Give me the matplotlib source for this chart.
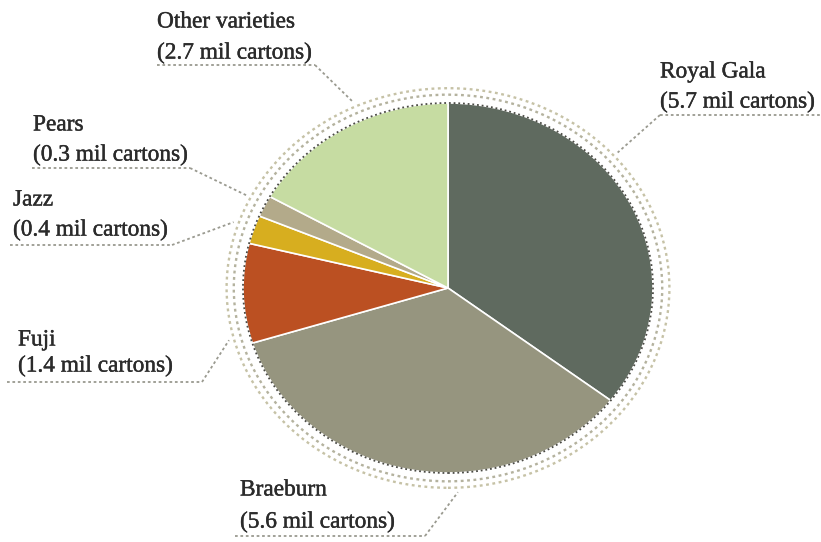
import numpy as np
import matplotlib
matplotlib.use("Agg")
import matplotlib.pyplot as plt
import matplotlib.patheffects as pe
from matplotlib.patches import Ellipse

# ---- data ----
varieties = ["Royal Gala", "Braeburn", "Fuji", "Jazz", "Pears", "Other varieties"]
cartons_mil = [5.7, 5.6, 1.4, 0.4, 0.3, 2.7]
colors = ["#5f6a5f", "#96957f", "#bb5022", "#d7ae1f", "#b3aa8a", "#c6dca2"]

# ---- layout helpers (pixels -> data) ----
W, H = 821, 542
CX, CY, RX, RY = 448, 288, 205, 185

def px(x, y):
    return (x - CX) / RX, (CY - y) / RY

fig = plt.figure(figsize=(W / 100, H / 100), dpi=100)
fig.patch.set_facecolor("white")
ax = fig.add_axes([0, 0, 1, 1])

wedges, _ = ax.pie(cartons_mil, colors=colors, startangle=90, counterclock=False,
                   radius=1.0, center=(0, 0),
                   wedgeprops=dict(edgecolor="white", linewidth=1.2))
ax.set_aspect("auto")
ax.set_xlim(-CX / RX, (W - CX) / RX)
ax.set_ylim(-(H - CY) / RY, CY / RY)
ax.axis("off")

# dark dotted rim and two light dotted rings
ax.add_patch(Ellipse((0, 0), 2.0, 2.0, fill=False, edgecolor="#4a4a44",
                     linestyle=(0, (1, 1.6)), linewidth=1.3, zorder=5))
for r, c in [(1.045, "#b4b29e"), (1.08, "#c6c2a6")]:
    ax.add_patch(Ellipse((0, 0), 2 * r, 2 * r, fill=False, edgecolor=c,
                         linestyle=(0, (1.2, 1.5)), linewidth=1.7, zorder=5))

# labels
font = dict(family="Liberation Serif", fontsize=16.8, color="#2b2b2b",
            path_effects=[pe.withStroke(linewidth=0.3, foreground="#2b2b2b")])
labels = {
    "Other varieties": dict(x=157, y1=22, y2=53, uy=65, ux=(157, 315), side="right", ang=114.7),
    "Pears": dict(x=33, y1=125, y2=155, uy=168, ux=(32, 190), side="right", ang=153.0),
    "Jazz": dict(x=13, y1=200, y2=230, uy=245, ux=(10, 172), side="right", ang=161.2),
    "Royal Gala": dict(x=660, y1=72, y2=102, uy=115, ux=(660, 821), side="left", ang=41.5),
    "Fuji": dict(x=18, y1=340, y2=366, uy=382, ux=(7, 202), side="right", ang=194.8),
    "Braeburn": dict(x=240, y1=490, y2=522, uy=536, ux=(235, 425), side="right", ang=272.5),
}
lead_kw = dict(color="#9a9a90", linestyle=(0, (1.5, 1.5)), linewidth=1.3, zorder=6)
for name, val in zip(varieties, cartons_mil):
    L = labels[name]
    ax.text(*px(L["x"], L["y1"]), name, ha="left", va="center", **font)
    ax.text(*px(L["x"], L["y2"]), f"({val} mil cartons)", ha="left", va="center", **font)
    x0, y0 = px(L["ux"][0], L["uy"])
    x1, y1 = px(L["ux"][1], L["uy"])
    ax.plot([x0, x1], [y0, y1], **lead_kw)
    a = np.deg2rad(L["ang"])
    ex, ey = 1.105 * np.cos(a), 1.105 * np.sin(a)
    sx, sy = (x1, y1) if L["side"] == "right" else (x0, y0)
    ax.plot([sx, ex], [sy, ey], **lead_kw)

fig.savefig("out.png", dpi=100, facecolor="white")
